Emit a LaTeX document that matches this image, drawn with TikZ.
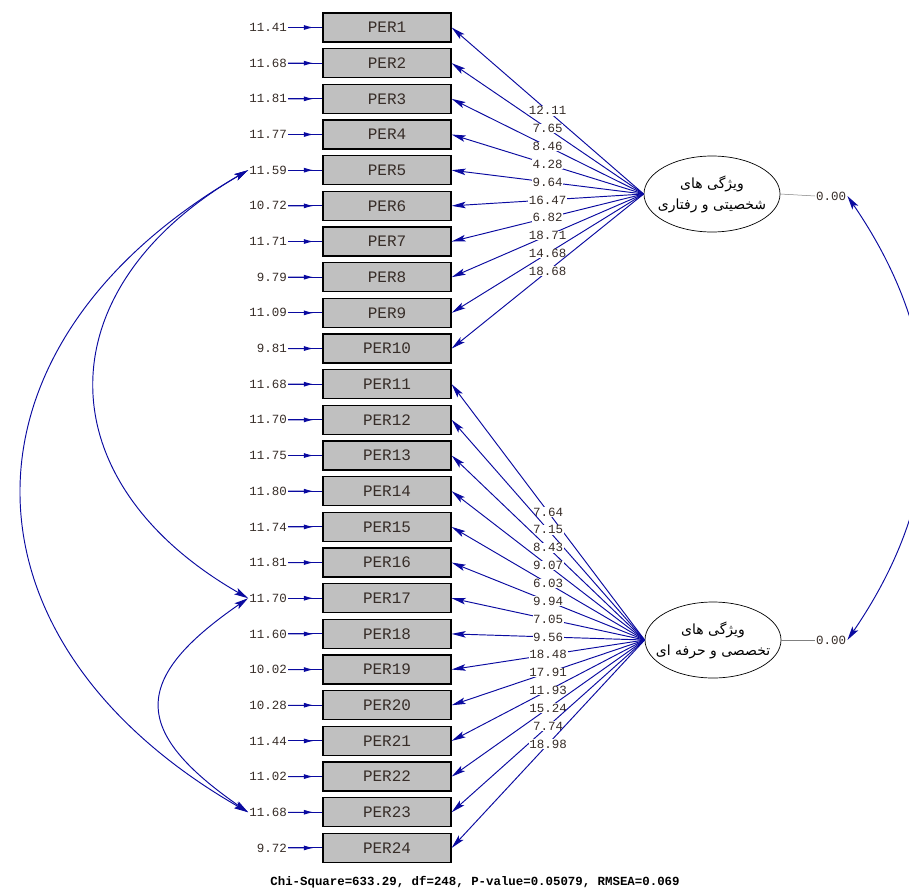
\documentclass[tikz,border=0pt]{standalone}
\usepackage{fontspec}
\usetikzlibrary{arrows.meta,calc,shapes.geometric}
\TeXXeTstate=1
\newfontfamily\numfont{Liberation Mono}
\newfontfamily\arabicfont[Script=Arabic]{DejaVu Sans}
\definecolor{lisblue}{RGB}{10,10,160}
\definecolor{boxgray}{RGB}{192,192,192}
\definecolor{numcol}{RGB}{55,45,40}
\tikzset{
  obs/.style={draw=black, line width=1.3pt, fill=boxgray, minimum width=128pt, minimum height=29pt, inner sep=0pt, text=numcol, font=\numfont\fontsize{16}{17}\selectfont},
  errlab/.style={anchor=east, inner sep=1pt, text=numcol, font=\numfont\fontsize{12.5}{14}\selectfont},
  loadlab/.style={fill=white, inner sep=0.6pt, text=numcol, font=\numfont\fontsize{12.5}{14}\selectfont},
  varlab/.style={anchor=west, inner sep=1pt, text=numcol, font=\numfont\fontsize{12.5}{14}\selectfont},
  latent/.style={ellipse, draw=black, line width=0.7pt, fill=white, minimum width=136pt, minimum height=76pt, inner sep=-11pt, align=center, font=\arabicfont\fontsize{14}{21}\selectfont},
  load/.style={draw=lisblue, line width=0.95pt, -{Stealth[length=14pt,width=6.5pt,inset=3pt]}},
  errline/.style={draw=lisblue, line width=0.95pt},
  errtip/.style={draw=lisblue, line width=0.95pt, -{Latex[length=10pt,width=5pt]}},
  covar/.style={draw=lisblue, line width=0.95pt, {Stealth[length=14pt,width=7pt,inset=3pt]}-{Stealth[length=14pt,width=7pt,inset=3pt]}},
  varline/.style={draw=gray, line width=0.5pt}
}
\begin{document}
\begin{tikzpicture}[x=1pt,y=-1pt]
\useasboundingbox (0,0) rectangle (909,891);
\clip (0,0) rectangle (909,891);
\fill[white] (0,0) rectangle (909,891);

\node[latent] (f1) at (712,194) {\beginR ویژگی های\endR\\\beginR شخصیتی و رفتاری\endR};
\node[latent] (f2) at (713,640) {\beginR ویژگی های\endR\\\beginR تخصصی و حرفه ای\endR};

\node[varlab] (v1) at (815,196) {0.00};
\node[varlab] (v2) at (815,640) {0.00};
\draw[varline] (f1.east) -- (v1.west);
\draw[varline] (f2.east) -- (v2.west);

\foreach \i/\e in {1/11.41,2/11.68,3/11.81,4/11.77,5/11.59,6/10.72,7/11.71,8/9.79,9/11.09,10/9.81,11/11.68,12/11.70,13/11.75,14/11.80,15/11.74,16/11.81,17/11.70,18/11.60,19/10.02,20/10.28,21/11.44,22/11.02,23/11.68,24/9.72}{
  \node[obs] (p\i) at (387,{27.5+(\i-1)*35.67}) {PER\i};
  \node[errlab] (e\i) at (288,{27.5+(\i-1)*35.67}) {\e};
  \draw[errline] (e\i.east) -- (p\i.west);
  \draw[errtip] (e\i.east) -- ($(e\i.east)!0.75!(p\i.west)$);
}

\foreach \i/\l in {1/12.11,2/7.65,3/8.46,4/4.28,5/9.64,6/16.47,7/6.82,8/18.71,9/14.68,10/18.68}{
  \draw[load] (f1.west) -- node[loadlab]{\l} (p\i.east);
}
\foreach \i/\l in {11/7.64,12/7.15,13/8.43,14/9.07,15/6.03,16/9.94,17/7.05,18/9.56,19/18.48,20/17.91,21/11.93,22/15.24,23/7.74,24/18.98}{
  \draw[load] (f2.west) -- node[loadlab]{\l} (p\i.east);
}

% error covariances
\draw[covar] (e5.west) .. controls (-53,345) and (-53,639) .. (e23.west);
\draw[covar] (e5.west) .. controls (44,289) and (44,481) .. (e17.west);
\draw[covar] (e17.west) .. controls (131,679) and (131,731) .. (e23.west);

% factor covariance
\draw[covar] (v1.east) .. controls (950,346) and (950,490) .. (v2.east);

\node[font=\numfont\bfseries\fontsize{12.4}{14}\selectfont, text=black] (fit) at (475,882) {Chi-Square=633.29, df=248, P-value=0.05079, RMSEA=0.069};
\end{tikzpicture}
\end{document}
